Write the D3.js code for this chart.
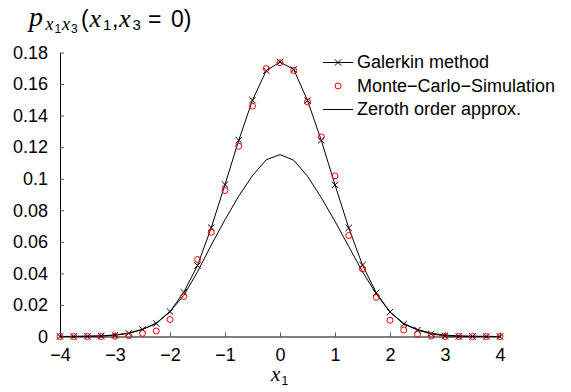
<!DOCTYPE html>
<html>
<head>
<meta charset="utf-8">
<script src="https://cdn.jsdelivr.net/npm/d3@7"></script>
<style>
  body { margin: 0; background: #fff; }
  svg { display: block; font-family: "Liberation Sans", Arial, sans-serif; }
</style>
</head>
<body>
<div id="chart"></div>
<script>
// x positions of the samples
const xs = [-4, -3.75, -3.5, -3.25, -3, -2.75, -2.5, -2.25, -2, -1.75, -1.5, -1.25, -1, -0.75, -0.5, -0.25,
  0, 0.25, 0.5, 0.75, 1, 1.25, 1.5, 1.75, 2, 2.25, 2.5, 2.75, 3, 3.25, 3.5, 3.75, 4];

const galerkin = [0, 0, 0.0001, 0.0003, 0.0008, 0.002, 0.0045, 0.0082, 0.0158, 0.028, 0.045, 0.069, 0.0963, 0.1244, 0.1498, 0.1685,
  0.1740, 0.1692, 0.1496, 0.1244, 0.0961, 0.0688, 0.0453, 0.0277, 0.0155, 0.0079, 0.0041, 0.0016, 0.0004, 0.0001, 0, 0, 0];

const monteCarlo = [0, 0, 0, 0, 0.0002, 0.0005, 0.002, 0.0035, 0.0108, 0.0253, 0.0488, 0.066, 0.0925, 0.1206, 0.146, 0.1698,
  0.1735, 0.1686, 0.1487, 0.1265, 0.1018, 0.064, 0.0428, 0.0248, 0.0103, 0.0041, 0.0014, 0.0003, 0, 0, 0, 0, 0];

const zeroth = [0, 0.0001, 0.0002, 0.0004, 0.001, 0.0022, 0.0045, 0.0085, 0.0158, 0.026, 0.041, 0.058, 0.074, 0.089, 0.102, 0.112,
  0.1153, 0.1117, 0.1016, 0.088, 0.073, 0.057, 0.041, 0.027, 0.0155, 0.0083, 0.0044, 0.0021, 0.0009, 0.0004, 0.0002, 0.0001, 0];

const xTicks = [-4, -3, -2, -1, 0, 1, 2, 3, 4];
const xTickLabels = ["\u22124", "\u22123", "\u22122", "\u22121", "0", "1", "2", "3", "4"];
const yTicks = [0, 0.02, 0.04, 0.06, 0.08, 0.1, 0.12, 0.14, 0.16, 0.18];
const yTickLabels = ["0", "0.02", "0.04", "0.06", "0.08", "0.1", "0.12", "0.14", "0.16", "0.18"];

const legendNames = ["Galerkin method", "Monte\u2212Carlo\u2212Simulation", "Zeroth order approx."];

const width = 571, height = 392;
const fontSize = 18;
const serif = "'Liberation Serif', 'DejaVu Serif', serif";

const x = d3.scaleLinear().domain([-4, 4]).range([60, 500]);
const y = d3.scaleLinear().domain([0, 0.18]).range([336.5, 52.5]);

const svg = d3.select("#chart").append("svg")
  .attr("width", width)
  .attr("height", height);

// axes
const xAxis = d3.axisBottom(x)
  .tickValues(xTicks)
  .tickFormat((d, i) => xTickLabels[i])
  .tickSizeInner(-4)
  .tickSizeOuter(0)
  .tickPadding(12);

const yAxis = d3.axisLeft(y)
  .tickValues(yTicks)
  .tickFormat((d, i) => yTickLabels[i])
  .tickSizeInner(-4)
  .tickSizeOuter(0)
  .tickPadding(12);

const gx = svg.append("g")
  .attr("transform", `translate(0,${y(0)})`)
  .call(xAxis);

const gy = svg.append("g")
  .attr("transform", `translate(${x(-4)},0)`)
  .call(yAxis);

[gx, gy].forEach(g => {
  g.selectAll("text")
    .attr("fill", "#000")
    .style("font-size", fontSize + "px")
    .style("font-family", "'Liberation Sans', Arial, sans-serif");
  g.select(".domain").attr("stroke", "#000");
  g.selectAll(".tick line").attr("stroke", "#555");
});

// curves
const line = d3.line()
  .x((d, i) => x(xs[i]))
  .y(d => y(d));

svg.append("path")
  .datum(zeroth)
  .attr("fill", "none")
  .attr("stroke", "#000")
  .attr("stroke-width", 1)
  .attr("d", line);

svg.append("path")
  .datum(galerkin)
  .attr("fill", "none")
  .attr("stroke", "#000")
  .attr("stroke-width", 1)
  .attr("d", line);

const cross = d3.symbol().type(d3.symbolX).size(28);

svg.append("g")
  .selectAll("path")
  .data(galerkin)
  .join("path")
  .attr("transform", (d, i) => `translate(${x(xs[i])},${y(d)})`)
  .attr("d", cross)
  .attr("fill", "none")
  .attr("stroke", "#000")
  .attr("stroke-width", 1);

svg.append("g")
  .selectAll("circle")
  .data(monteCarlo)
  .join("circle")
  .attr("cx", (d, i) => x(xs[i]))
  .attr("cy", d => y(d))
  .attr("r", 3)
  .attr("fill", "none")
  .attr("stroke", "#ff0000")
  .attr("stroke-width", 1);

// legend
const legend = svg.append("g").attr("transform", "translate(323,62)");
const rowGap = 23.5;

legendNames.forEach((name, i) => {
  const row = legend.append("g").attr("transform", `translate(0,${i * rowGap})`);
  if (i !== 1) {
    row.append("line")
      .attr("x1", 0).attr("x2", 30)
      .attr("y1", 0.5).attr("y2", 0.5)
      .attr("stroke", "#000");
  }
  if (i === 0) {
    row.append("path")
      .attr("transform", "translate(15,0.5)")
      .attr("d", cross)
      .attr("fill", "none")
      .attr("stroke", "#000");
  }
  if (i === 1) {
    row.append("circle")
      .attr("cx", 15).attr("cy", 0.5).attr("r", 3)
      .attr("fill", "none")
      .attr("stroke", "#ff0000");
  }
  row.append("text")
    .attr("x", 34)
    .attr("y", 0)
    .attr("dy", "0.35em")
    .style("font-size", fontSize + "px")
    .text(name);
});

// title p_{x1 x3}(x1, x3 = 0), pieces placed one by one
const titleParts = [
  { t: "p", x: 29, y: 26, size: 28, italic: true },
  { t: "x", x: 45.5, y: 30, size: 18, italic: true },
  { t: "1", x: 54.5, y: 32.5, size: 12 },
  { t: "x", x: 62, y: 30, size: 18, italic: true },
  { t: "3", x: 71, y: 32.5, size: 12 },
  { t: "(", x: 81, y: 27, size: 23 },
  { t: "x", x: 89.5, y: 27, size: 26, italic: true },
  { t: "1", x: 103, y: 30, size: 15 },
  { t: ",", x: 112, y: 27, size: 23 },
  { t: "x", x: 119, y: 27, size: 26, italic: true },
  { t: "3", x: 132.5, y: 30, size: 15 },
  { t: "=", x: 148, y: 27, size: 23 },
  { t: "0)", x: 171, y: 27, size: 23 }
];

svg.append("g")
  .selectAll("text")
  .data(titleParts)
  .join("text")
  .attr("x", d => d.x)
  .attr("y", d => d.y)
  .style("font-size", d => d.size + "px")
  .style("font-family", d => d.italic ? serif : "'Liberation Sans', Arial, sans-serif")
  .style("font-style", d => d.italic ? "italic" : "normal")
  .text(d => d.t);

// x axis label
svg.append("text")
  .attr("x", 271)
  .attr("y", 381)
  .style("font-family", serif)
  .style("font-style", "italic")
  .style("font-size", "21px")
  .text("x");
svg.append("text")
  .attr("x", 281.5)
  .attr("y", 384.5)
  .style("font-size", "12px")
  .text("1");
</script>
</body>
</html>
